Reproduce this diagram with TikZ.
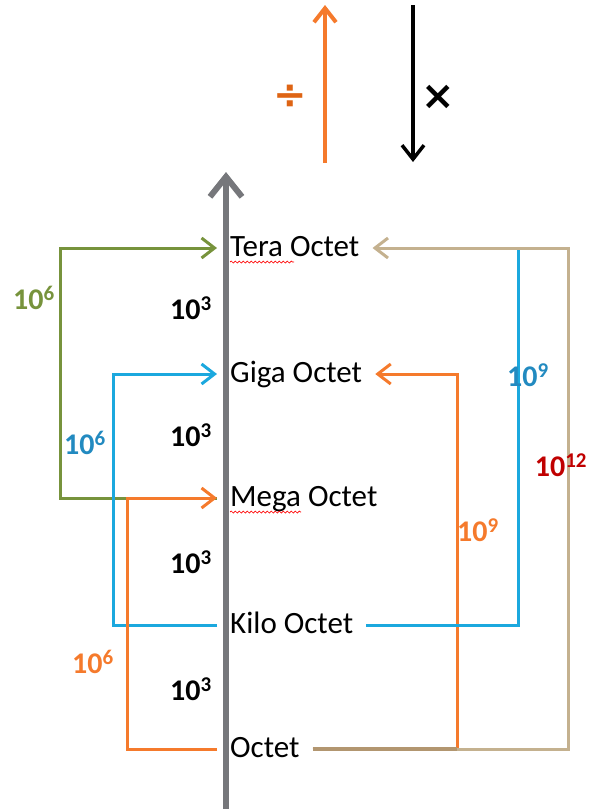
\documentclass[tikz,border=0pt]{standalone}
\usepackage{fontspec}
\setmainfont{Carlito}
\newfontfamily\symfont{DejaVu Sans}
\usetikzlibrary{arrows.meta,decorations.pathmorphing}

\definecolor{axisgrey}{RGB}{118,119,123}
\definecolor{lgreen}{RGB}{119,147,60}
\definecolor{lblue}{RGB}{27,168,222}
\definecolor{tblue}{RGB}{34,138,192}
\definecolor{lorange}{RGB}{245,122,44}
\definecolor{dorange}{RGB}{222,100,20}
\definecolor{ltan}{RGB}{196,177,143}
\definecolor{dtan}{RGB}{178,150,112}
\definecolor{tred}{RGB}{192,0,0}

\begin{document}
\begin{tikzpicture}[x=1pt,y=-1pt,
  unit/.style={font=\fontsize{31}{33}\selectfont, inner xsep=13pt, inner ysep=0pt,
    text height=21pt, text depth=5pt, anchor=west},
  pow/.style={font=\bfseries\fontsize{30}{32}\selectfont, inner sep=0pt},
  opsign/.style={font=\symfont\bfseries\fontsize{40}{40}\selectfont, inner sep=0pt},
  link/.style={line width=3pt},
  headed/.style={-{Straight Barb[length=13pt,width=20pt]}},
  spell/.style={red, line width=0.7pt, decorate,
    decoration={snake, amplitude=1pt, segment length=4pt}}
]
\useasboundingbox (0,0) rectangle (590,809);

% operation arrows at the top
\draw[lorange, line width=4pt, -{Straight Barb[length=14pt,width=22pt]}] (325,163) -- (325,5);
\draw[black, line width=3.5pt, -{Straight Barb[length=14pt,width=22pt]}] (413,5) -- (413,162);
\node[opsign, text=dorange] (divsign) at (290,97) {÷};
\node[opsign, text=black] (mulsign) at (438,97) {×};

% main scale axis
\coordinate (axbot) at (226,809);
\coordinate (axtop) at (226,172);
\draw[axisgrey, line width=6pt, -{Straight Barb[length=20pt,width=32pt]}] (axbot) -- (axtop);

% units
\node[unit] (tera)  at (217,248) {Tera Octet};
\node[unit] (giga)  at (217,374) {Giga Octet};
\node[unit] (mega)  at (217,498) {Mega Octet};
\node[unit] (kilo)  at (217,625) {Kilo Octet};
\node[unit] (octet) at (217,749) {Octet};

% spell-check marks
\draw[spell] ([shift={(13,6)}]tera.base west) -- ([shift={(77,6)}]tera.base west);
\draw[spell] ([shift={(13,6)}]mega.base west) -- ([shift={(84,6)}]mega.base west);

% column positions of the bypass connectors
\coordinate (xg) at (60,0);
\coordinate (xb) at (113,0);
\coordinate (xo) at (127,0);
\coordinate (xoR) at (457,0);
\coordinate (xbR) at (518,0);
\coordinate (xtR) at (568,0);

% left-hand connectors
\draw[link, lgreen, headed] (mega.west) -- (mega.west -| xg) -- (tera.west -| xg) -- (tera.west);
\draw[link, lblue, headed] (kilo.west) -- (kilo.west -| xb) -- (giga.west -| xb) -- (giga.west);
\draw[link, lorange, headed] (octet.west) -- (octet.west -| xo) -- (mega.west -| xo) -- (mega.west);

% right-hand connectors
\draw[link, lorange, headed] (octet.east) -- (octet.east -| xoR) -- (giga.east -| xoR) -- (giga.east);
\draw[link, lblue] (kilo.east) -- (kilo.east -| xbR) -- (tera.east -| xbR);
\draw[link, ltan, headed] (octet.east) -- (octet.east -| xtR) -- (tera.east -| xtR) -- (tera.east);
% shared stretch of the two Octet connectors
\draw[line width=3.5pt, dtan] (octet.east) -- (octet.east -| xoR);

% factors between units
\node[pow] (f1) at (191,308) {10\textsuperscript{3}};
\node[pow] (f2) at (191,435) {10\textsuperscript{3}};
\node[pow] (f3) at (191,562) {10\textsuperscript{3}};
\node[pow] (f4) at (191,689) {10\textsuperscript{3}};

% factors on the bypasses
\node[pow, text=lgreen] (g6) at (34,298) {10\textsuperscript{6}};
\node[pow, text=tblue] (b6) at (85,443) {10\textsuperscript{6}};
\node[pow, text=lorange] (o6) at (93,662) {10\textsuperscript{6}};
\node[pow, text=tblue] (b9) at (528,375) {10\textsuperscript{9}};
\node[pow, text=lorange] (o9) at (478,530) {10\textsuperscript{9}};
\node[pow, text=tred] (r12) at (561,465) {10\textsuperscript{12}};
\end{tikzpicture}
\end{document}
